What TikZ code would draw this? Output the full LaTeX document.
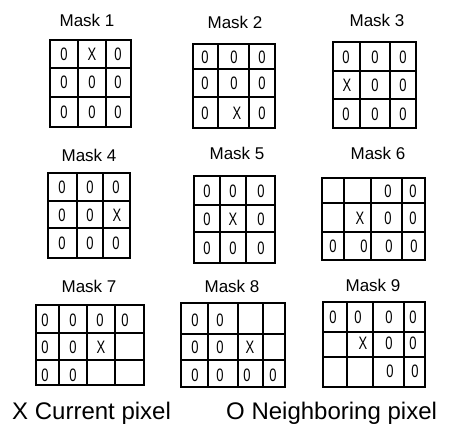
\documentclass[tikz,border=0pt]{standalone}
\usepackage{fontspec}
\setmainfont{Liberation Sans}
\begin{document}
\begin{tikzpicture}[x=1pt,y=-1pt,
  gridline/.style={line width=1.5pt},
  cell/.style={font=\fontsize{18}{18}\selectfont, inner sep=0pt, anchor=center},
  masktitle/.style={font=\fontsize{17}{17}\selectfont, inner sep=0pt, anchor=center},
  legend/.style={font=\fontsize{24}{24}\selectfont, inner sep=0pt, anchor=base west}]
\useasboundingbox[fill=white] (0,0) rectangle (449,443);
\newcommand\maskgrid[4]{% #1 inner xs, #2 inner ys, #3 x0/x1, #4 y0/y1
  \foreach \xa/\xb in {#3}{\foreach \ya/\yb in {#4}{%
    \draw[gridline] (\xa,\ya) rectangle (\xb,\yb);
    \foreach \x in {#1} \draw[gridline] (\x,\ya) -- (\x,\yb);
    \foreach \y in {#2} \draw[gridline] (\xa,\y) -- (\xb,\y);}}}
\newcommand\cells[2]{\foreach \cx/\cy/\ct [count=\ci] in {#2} \node[cell] (#1-\ci) at (\cx,\cy) {\scalebox{0.72}[1]{\ct}};}
% titles
\node[masktitle] (t1) at (87,20) {Mask 1};
\node[masktitle] (t2) at (235,22) {Mask 2};
\node[masktitle] (t3) at (377,20) {Mask 3};
\node[masktitle] (t4) at (89,155) {Mask 4};
\node[masktitle] (t5) at (237,153) {Mask 5};
\node[masktitle] (t6) at (378,153) {Mask 6};
\node[masktitle] (t7) at (89,286) {Mask 7};
\node[masktitle] (t8) at (232,286) {Mask 8};
\node[masktitle] (t9) at (373,285) {Mask 9};
% Mask 1
\maskgrid{78,106}{68,97}{50/131}{40/127}
\cells{m1}{64/54/0,92/54/X,118/54/0,64/82/0,92/82/0,118/82/0,64/112/0,92/112/0,118/112/0}
% Mask 2
\maskgrid{218,249}{69,97}{193/275}{44/128}
\cells{m2}{205/57/0,234/57/0,262/57/0,205/83/0,234/83/0,262/83/0,205/113/0,237/113/X,262/113/0}
% Mask 3
\maskgrid{360,390}{71,99}{333/416}{42/128}
\cells{m3}{346/57/0,375/57/0,403/57/0,347/85/X,375/85/0,403/85/0,346/114/0,375/114/0,403/114/0}
% Mask 4
\maskgrid{77,103}{201,228}{48/130}{173/258}
\cells{m4}{62/187/0,90/187/0,116/187/0,62/215/0,90/215/0,117/215/X,62/243/0,90/243/0,116/243/0}
% Mask 5
\maskgrid{220,246}{205,232}{194/275}{176/263}
\cells{m5}{207/191/0,233/191/0,261/191/0,207/219/0,233/219/X,261/219/0,207/248/0,233/248/0,261/248/0}
% Mask 6
\maskgrid{344,371,402}{203,232}{322/425}{178/260}
\cells{m6}{388/191/0,413/191/0,360/218/X,388/218/0,413/218/0,333/246/0,364/246/0,389/246/0,414/246/0}
% Mask 7
\maskgrid{59,87,115}{333,360}{36/144}{305/385}
\cells{m7}{45/320/0,73/320/0,100/320/0,125/320/0,45/347/0,73/347/0,101/347/X,45/375/0,73/375/0}
% Mask 8
\maskgrid{208,238,263}{334,360}{181/285}{303/387}
\cells{m8}{195/320/0,220/320/0,195/347/0,220/347/0,250/347/X,195/375/0,220/375/0,247/375/0,273/375/0}
% Mask 9
\maskgrid{347,373,404}{332,357}{323/425}{302/387}
\cells{m9}{333/317/0,358/317/0,389/317/0,413/317/0,363/343/X,389/343/0,413/343/0,390/371/0,415/371/0}
% legend
\node[legend] (lx) at (12,419) {X Current pixel};
\node[legend] (lo) at (226,419) {O Neighboring pixel};
\end{tikzpicture}
\end{document}
